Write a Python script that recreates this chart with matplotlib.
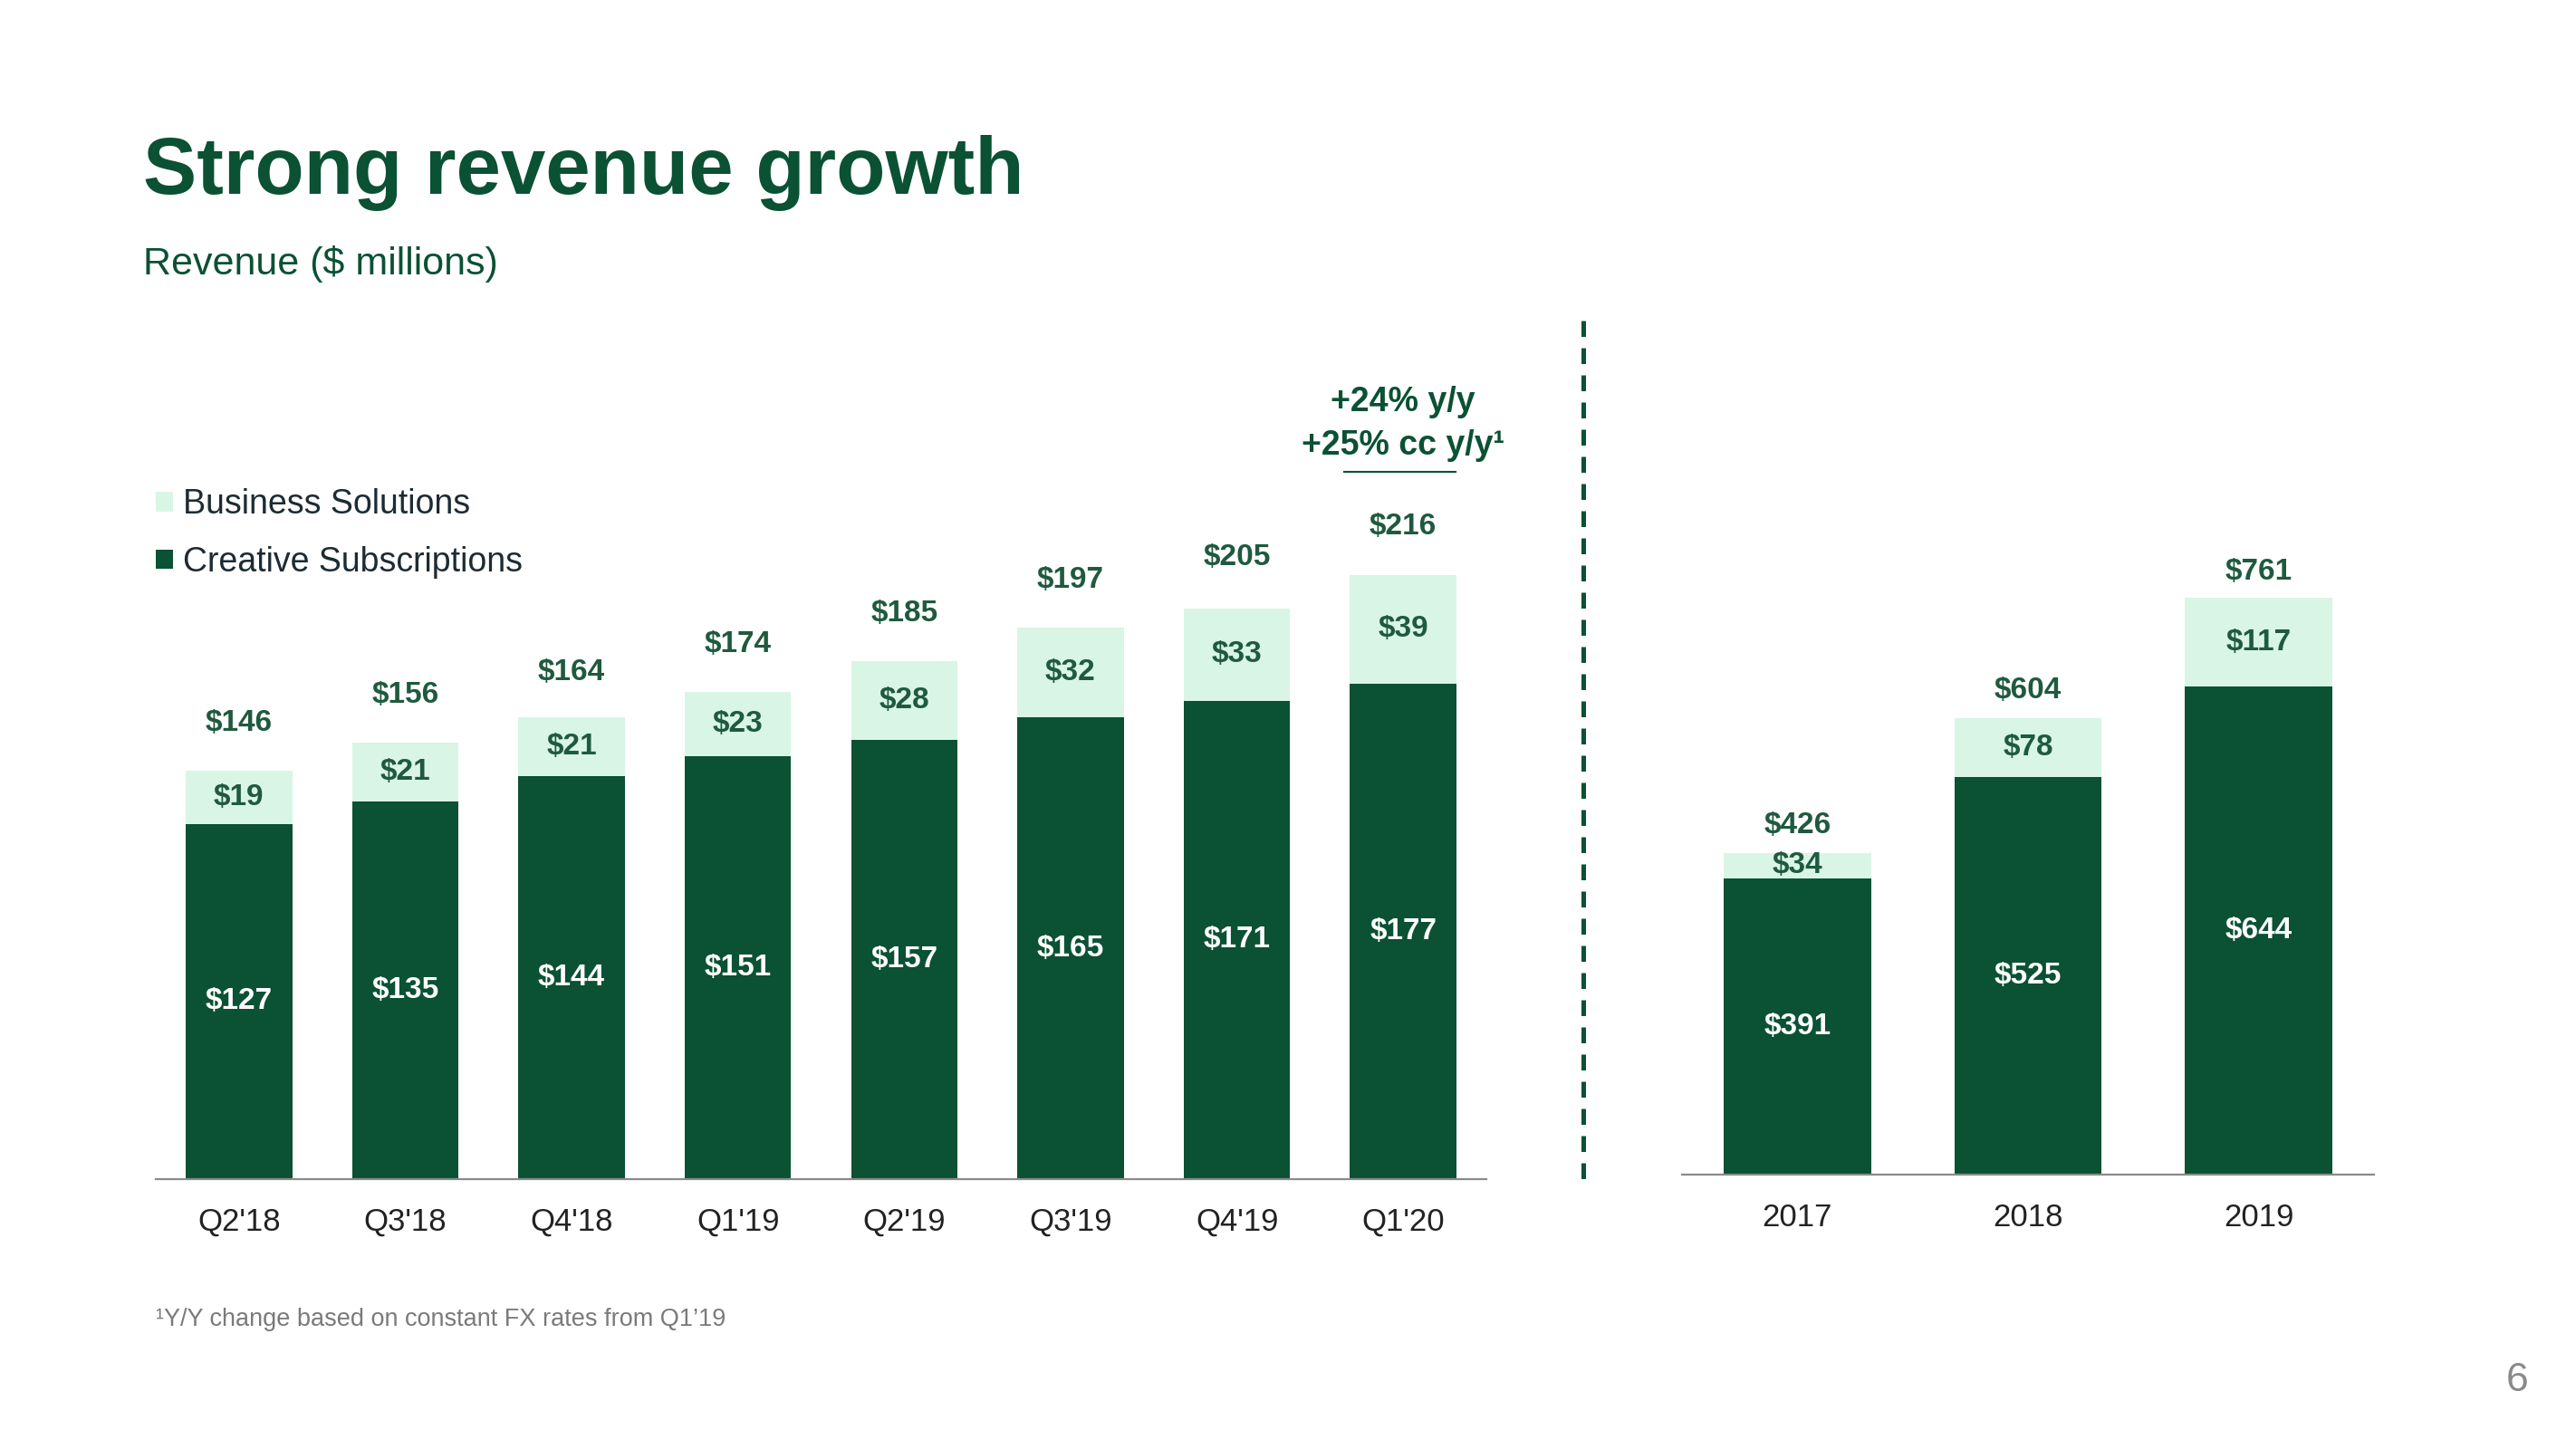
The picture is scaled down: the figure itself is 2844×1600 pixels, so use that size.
import matplotlib
matplotlib.use("Agg")
import matplotlib.pyplot as plt
from matplotlib.lines import Line2D

plt.rcParams['font.family'] = ['Liberation Sans', 'DejaVu Sans']

# data
quarters = ["Q2'18", "Q3'18", "Q4'18", "Q1'19", "Q2'19", "Q3'19", "Q4'19", "Q1'20"]
q_creative = [127, 135, 144, 151, 157, 165, 171, 177]
q_business = [19, 21, 21, 23, 28, 32, 33, 39]
q_total = [146, 156, 164, 174, 185, 197, 205, 216]

years = ["2017", "2018", "2019"]
y_creative = [391, 525, 644]
y_business = [34, 78, 117]
y_total = [426, 604, 761]

DARK = '#0b5134'
LIGHT = '#d9f5e6'
LABEL = '#1f5a3e'
W, H = 2844, 1600


def fx(px):
    return px / W


def fy(py):
    return 1 - py / H


fig = plt.figure(figsize=(W / 100, H / 100), dpi=100)
fig.patch.set_facecolor('white')

# title block
fig.text(fx(158), fy(214), "Strong revenue growth", fontsize=64, fontweight='bold',
         color=DARK, va='baseline')
fig.text(fx(158), fy(303), "Revenue ($ millions)", fontsize=31, color=DARK, va='baseline')


def style_axis(ax):
    for s in ['top', 'right', 'left']:
        ax.spines[s].set_visible(False)
    ax.spines['bottom'].set_color('#8a8a8a')
    ax.spines['bottom'].set_linewidth(1.6)
    ax.set_yticks([])
    ax.tick_params(axis='x', length=0, pad=22, labelsize=25, labelcolor='#222222')


# quarterly chart
ax1 = fig.add_axes([fx(172), fy(1302), fx(1641) - fx(172), 900 / H])
x1 = range(len(quarters))
c1 = ax1.bar(x1, q_creative, width=0.64, color=DARK, label='Creative Subscriptions')
b1 = ax1.bar(x1, q_business, width=0.64, bottom=q_creative, color=LIGHT, label='Business Solutions')
ax1.set_xlim(-0.5, 7.5)
ax1.set_ylim(0, 291.3)
ax1.set_xticks(list(x1))
ax1.set_xticklabels(quarters)
style_axis(ax1)
ax1.bar_label(c1, labels=[f'${v}' for v in q_creative], label_type='center',
              color='white', fontsize=24, fontweight='bold')
ax1.bar_label(b1, labels=[f'${v}' for v in q_business], label_type='center',
              color=LABEL, fontsize=24, fontweight='bold')
for i, t in enumerate(q_total):
    ax1.annotate(f'${t}', xy=(i, t), xytext=(0, 38), textcoords='offset points',
                 ha='center', va='center', color=LABEL, fontsize=24, fontweight='bold')

# growth callout over last quarter
ax1.annotate('+24% y/y', xy=(7, q_total[-1]), xytext=(0, 137), textcoords='offset points',
             ha='center', va='center', color=DARK, fontsize=27, fontweight='bold')
ax1.annotate('+25% cc y/y\u00b9', xy=(7, q_total[-1]), xytext=(0, 103), textcoords='offset points',
             ha='center', va='center', color=DARK, fontsize=27, fontweight='bold')
fig.add_artist(Line2D([fx(1484), fx(1607)], [fy(521), fy(521)], color=DARK, lw=1.5,
                      transform=fig.transFigure))

ax1.legend(handles=[b1, c1], loc='center left', bbox_to_anchor=(fx(172), fy(589)),
           bbox_transform=fig.transFigure, frameon=False, fontsize=27,
           handlelength=0.5, handleheight=0.5, handletextpad=0.3,
           labelspacing=0.74, borderpad=0, borderaxespad=0, labelcolor='#1d2b33')

# annual chart
ax2 = fig.add_axes([fx(1857), fy(1297), fx(2621) - fx(1857), 900 / H])
x2 = range(len(years))
c2 = ax2.bar(x2, y_creative, width=0.64, color=DARK)
b2 = ax2.bar(x2, y_business, width=0.64, bottom=y_creative, color=LIGHT)
ax2.set_xlim(-0.5, 2.5)
ax2.set_ylim(0, 1076)
ax2.set_xticks(list(x2))
ax2.set_xticklabels(years)
style_axis(ax2)
ax2.bar_label(c2, labels=[f'${v}' for v in y_creative], label_type='center',
              color='white', fontsize=24, fontweight='bold')
ax2.bar_label(b2, labels=[f'${v}' for v in y_business], label_type='center',
              color=LABEL, fontsize=24, fontweight='bold')
for i, t in enumerate(y_total):
    ax2.annotate(f'${t}', xy=(i, t), xytext=(0, 21), textcoords='offset points',
                 ha='center', va='center', color=LABEL, fontsize=24, fontweight='bold')

# divider
fig.add_artist(Line2D([fx(1748), fx(1748)], [fy(354), fy(1306)], color=DARK, lw=3.6,
                      linestyle=(0, (3.5, 2.5)), dash_capstyle='butt',
                      transform=fig.transFigure))

# footnote and page number
fig.text(fx(172), fy(1457), '\u00b9Y/Y change based on constant FX rates from Q1\u201919',
         fontsize=19.5, color='#7a7a7a', va='center')
fig.text(fx(2779), fy(1525), '6', fontsize=32, color='#8a8a8a', ha='center', va='center')

fig.savefig('out.png', dpi=100)
